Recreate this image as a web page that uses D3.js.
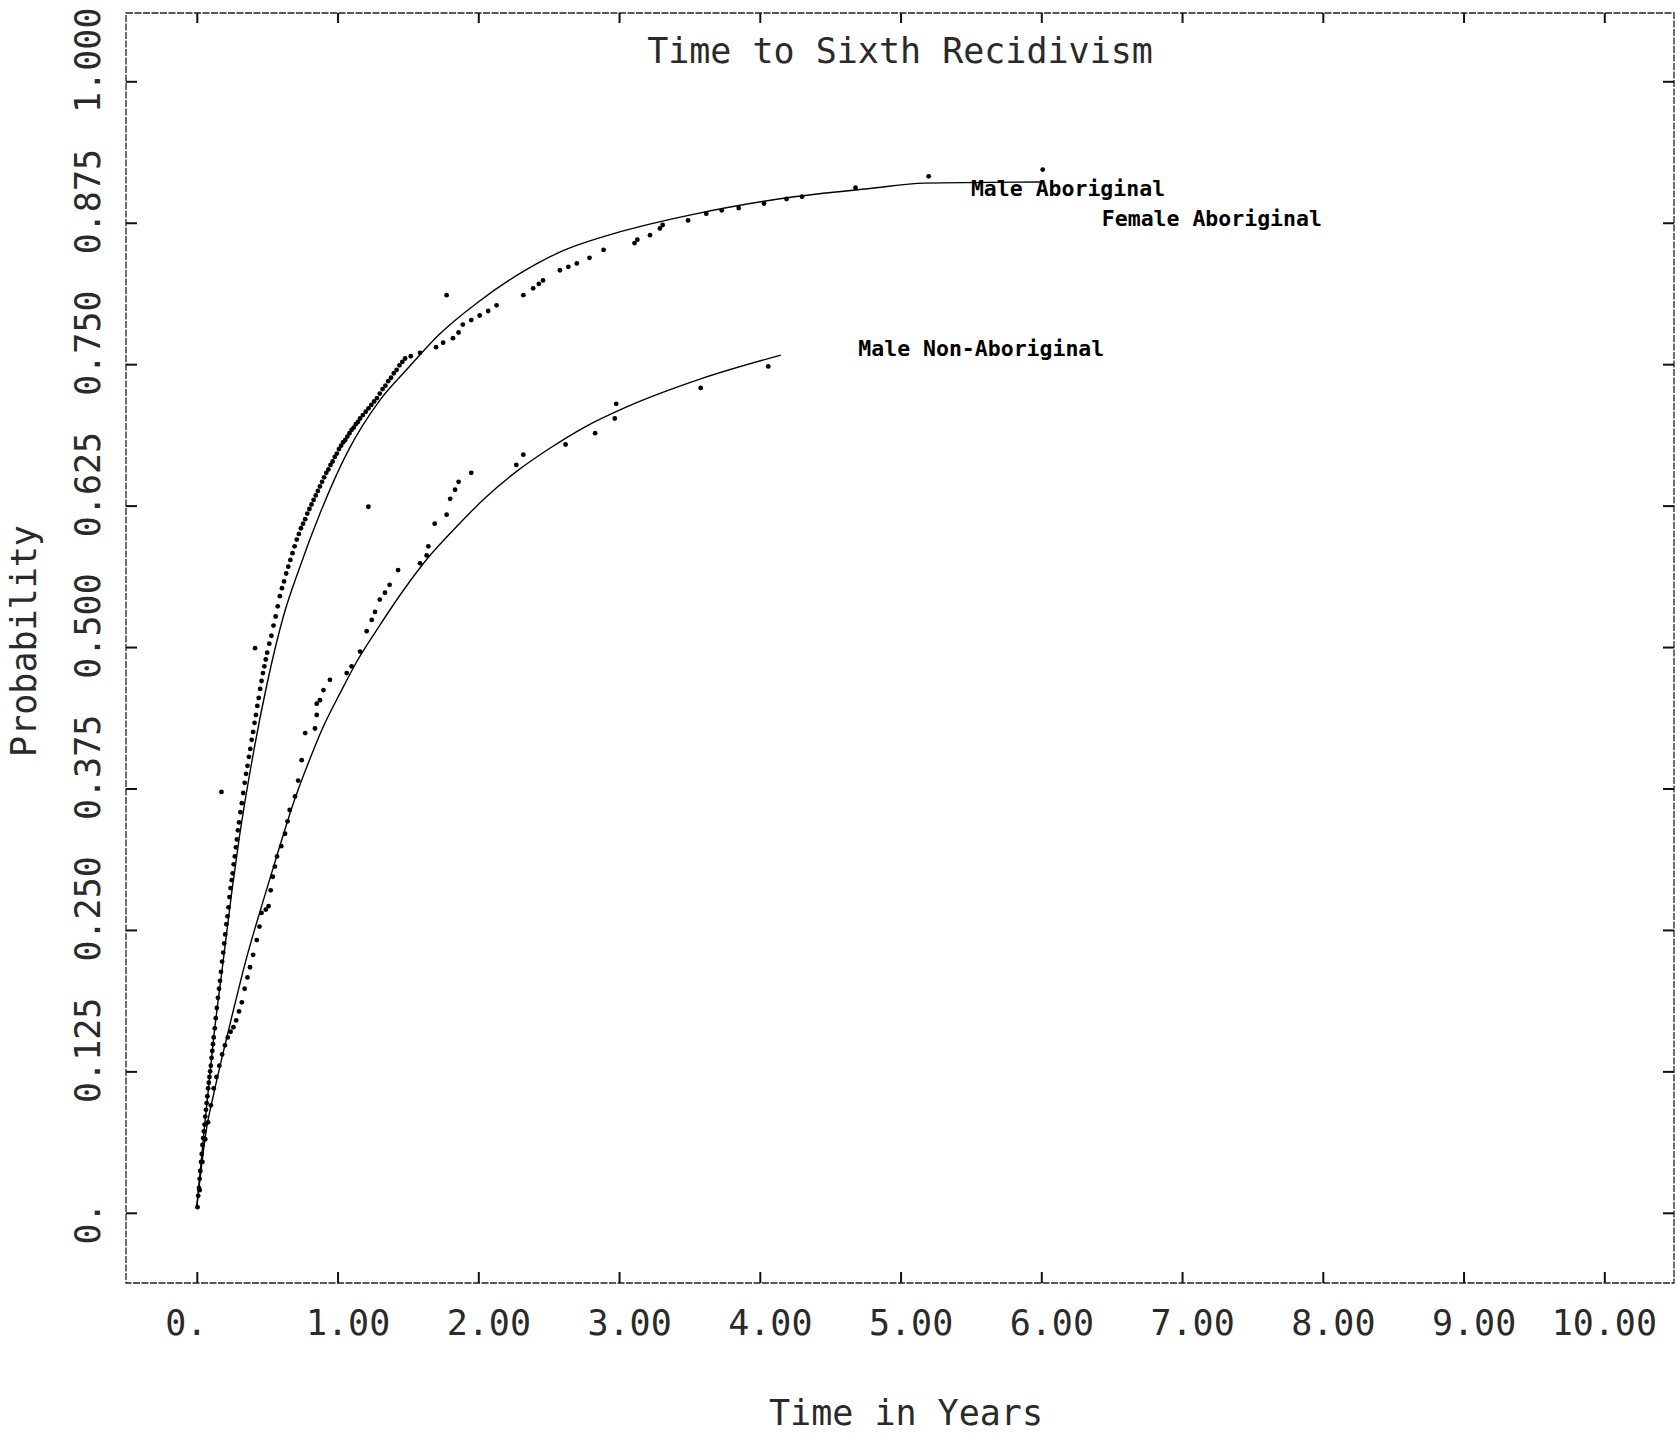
<!DOCTYPE html>
<html>
<head>
<meta charset="utf-8">
<script src="https://cdn.jsdelivr.net/npm/d3@7"></script>
<style>
  html, body { margin: 0; padding: 0; background: #fff; }
  svg { display: block; }
  .plot-font { font-family: "DejaVu Sans Mono", monospace; font-size: 35px; fill: #2a2a2a; }
  .curve-label { font-family: "DejaVu Sans Mono", monospace; font-weight: bold; font-size: 21.5px; fill: #000; }
</style>
</head>
<body>
<svg id="chart" width="1677" height="1438"></svg>
<script>
// axis ticks
const xTicks = [0, 1, 2, 3, 4, 5, 6, 7, 8, 9, 10];
const xTickLabels = ["0.", "1.00", "2.00", "3.00", "4.00", "5.00", "6.00", "7.00", "8.00", "9.00", "10.00"];
const yTicks = [0, 0.125, 0.25, 0.375, 0.5, 0.625, 0.75, 0.875, 1];
const yTickLabels = ["0.", "0.125", "0.250", "0.375", "0.500", "0.625", "0.750", "0.875", "1.000"];

// fitted curves [years, probability]
const maleAboriginalFit = [
  [0, 0.005], [0.05, 0.07], [0.12, 0.155], [0.19, 0.225], [0.25, 0.285], [0.30, 0.33],
  [0.40, 0.405], [0.50, 0.468], [0.615, 0.527], [0.733, 0.571], [0.875, 0.618], [1.065, 0.671],
  [1.30, 0.718], [1.49, 0.745], [1.72, 0.776], [2.00, 0.805], [2.32, 0.832], [2.56, 0.848],
  [2.98, 0.866], [3.16, 0.872], [3.51, 0.882], [4.03, 0.894], [4.45, 0.901], [4.77, 0.905],
  [5.17, 0.910], [6.00, 0.911]
];
const maleNonAboriginalFit = [
  [0, 0.005], [0.07, 0.075], [0.12, 0.105], [0.19, 0.143], [0.25, 0.174], [0.355, 0.226],
  [0.47, 0.275], [0.57, 0.316], [0.686, 0.362], [0.80, 0.40], [0.90, 0.43], [1.017, 0.459],
  [1.136, 0.487], [1.278, 0.515], [1.467, 0.550], [1.65, 0.580], [1.85, 0.607], [2.05, 0.632],
  [2.27, 0.655], [2.50, 0.675], [2.75, 0.694], [3.05, 0.712], [3.58, 0.737], [4.15, 0.758]
];

// empirical points [years, probability]
const maleAboriginalObs = [
  [0.005, 0.005], [0.01, 0.015], [0.015, 0.022], [0.02, 0.03], [0.025, 0.037], [0.03, 0.045],
  [0.035, 0.052], [0.04, 0.06], [0.045, 0.066], [0.05, 0.072], [0.055, 0.078], [0.06, 0.085],
  [0.065, 0.091], [0.07, 0.097], [0.075, 0.103], [0.08, 0.11], [0.085, 0.115], [0.09, 0.12],
  [0.095, 0.125], [0.10, 0.13], [0.105, 0.137], [0.11, 0.143], [0.115, 0.149], [0.12, 0.155],
  [0.128, 0.163], [0.135, 0.172], [0.142, 0.181], [0.15, 0.19], [0.158, 0.198], [0.165, 0.205],
  [0.172, 0.213], [0.18, 0.222], [0.188, 0.23], [0.195, 0.238], [0.202, 0.246], [0.21, 0.255],
  [0.218, 0.262], [0.225, 0.27], [0.232, 0.279], [0.24, 0.287], [0.248, 0.294], [0.255, 0.30],
  [0.262, 0.308], [0.27, 0.315], [0.278, 0.323], [0.285, 0.33], [0.292, 0.338], [0.30, 0.345],
  [0.31, 0.354], [0.32, 0.362], [0.33, 0.371], [0.34, 0.38], [0.35, 0.388], [0.36, 0.395],
  [0.37, 0.403], [0.38, 0.41], [0.39, 0.418], [0.40, 0.425], [0.41, 0.433], [0.42, 0.44],
  [0.43, 0.448], [0.44, 0.455], [0.45, 0.463], [0.46, 0.47], [0.47, 0.477], [0.48, 0.483],
  [0.49, 0.489], [0.50, 0.495], [0.515, 0.503], [0.53, 0.51], [0.545, 0.519], [0.56, 0.527],
  [0.575, 0.536], [0.59, 0.545], [0.605, 0.552], [0.62, 0.558], [0.635, 0.565], [0.65, 0.571],
  [0.665, 0.577], [0.68, 0.583], [0.695, 0.589], [0.71, 0.595], [0.725, 0.60], [0.74, 0.605],
  [0.755, 0.609], [0.77, 0.613], [0.785, 0.618], [0.80, 0.622], [0.815, 0.626], [0.83, 0.63],
  [0.845, 0.634], [0.86, 0.638], [0.875, 0.642], [0.89, 0.646], [0.905, 0.65], [0.92, 0.654],
  [0.935, 0.657], [0.95, 0.661], [0.965, 0.664], [0.98, 0.668], [0.995, 0.671], [1.01, 0.675],
  [1.025, 0.678], [1.04, 0.681], [1.055, 0.683], [1.07, 0.686], [1.085, 0.689], [1.10, 0.692],
  [1.115, 0.694], [1.13, 0.697], [1.145, 0.699], [1.16, 0.702], [1.18, 0.705], [1.20, 0.708],
  [1.22, 0.711], [1.24, 0.714], [1.26, 0.717], [1.28, 0.72], [1.30, 0.724], [1.32, 0.728],
  [1.34, 0.731], [1.36, 0.735], [1.38, 0.738], [1.40, 0.742], [1.42, 0.745], [1.44, 0.749],
  [1.46, 0.752], [1.48, 0.755], [1.52, 0.757], [1.586, 0.760], [1.70, 0.765], [1.75, 0.769],
  [1.82, 0.773], [1.86, 0.778], [1.89, 0.785], [1.95, 0.789], [2.01, 0.793], [2.07, 0.797],
  [2.13, 0.802], [2.32, 0.811], [2.39, 0.817], [2.43, 0.821], [2.46, 0.824], [2.58, 0.833],
  [2.64, 0.836], [2.70, 0.839], [2.79, 0.844], [2.89, 0.851], [3.11, 0.857], [3.13, 0.860],
  [3.22, 0.864], [3.29, 0.870], [3.31, 0.873], [3.49, 0.877], [3.62, 0.883], [3.73, 0.886],
  [3.85, 0.888], [4.03, 0.892], [4.19, 0.896], [4.30, 0.898], [4.68, 0.906], [5.20, 0.916],
  [6.01, 0.922]
];
const femaleAboriginalObs = [[0.175, 0.372], [0.414, 0.499], [1.219, 0.624], [1.775, 0.811]];
const maleNonAboriginalObs = [
  [0.02, 0.02], [0.04, 0.045], [0.06, 0.065], [0.08, 0.08], [0.10, 0.095], [0.12, 0.11],
  [0.14, 0.12], [0.16, 0.13], [0.18, 0.14], [0.20, 0.148], [0.22, 0.155], [0.24, 0.16],
  [0.26, 0.164], [0.28, 0.17], [0.30, 0.178], [0.32, 0.186], [0.34, 0.198], [0.36, 0.208],
  [0.378, 0.217], [0.40, 0.228], [0.426, 0.241], [0.445, 0.253], [0.46, 0.265], [0.49, 0.268],
  [0.51, 0.271], [0.525, 0.285], [0.54, 0.297], [0.555, 0.306], [0.57, 0.315], [0.60, 0.324],
  [0.627, 0.335], [0.645, 0.346], [0.66, 0.356], [0.698, 0.368], [0.72, 0.382], [0.745, 0.40],
  [0.77, 0.424], [0.84, 0.428], [0.852, 0.44], [0.852, 0.45], [0.875, 0.453], [0.90, 0.462],
  [0.946, 0.471], [1.065, 0.477], [1.10, 0.483], [1.16, 0.496], [1.207, 0.514], [1.243, 0.524],
  [1.266, 0.531], [1.30, 0.542], [1.337, 0.548], [1.37, 0.555], [1.43, 0.568], [1.586, 0.574],
  [1.633, 0.581], [1.645, 0.589], [1.69, 0.609], [1.775, 0.617], [1.80, 0.631], [1.835, 0.639],
  [1.86, 0.646], [1.95, 0.654], [2.27, 0.661], [2.32, 0.670], [2.62, 0.679], [2.83, 0.689],
  [2.97, 0.702], [2.98, 0.715], [3.58, 0.729], [4.06, 0.748]
];

// curve labels and where they sit (data units)
const curveLabels = ["Male Aboriginal", "Female Aboriginal", "Male Non-Aboriginal"];
const curveLabelAt = [[5.50, 0.899], [6.43, 0.872], [4.70, 0.757]];

const svg = d3.select("#chart");
const frame = { left: 126, top: 13, right: 1674, bottom: 1283 };

const x = d3.scaleLinear().domain([0, 10]).range([196.8, 1604.3]);
const y = d3.scaleLinear().domain([0, 1]).range([1212.8, 81.3]);

// frame
svg.append("rect")
    .attr("x", frame.left).attr("y", frame.top)
    .attr("width", frame.right - frame.left)
    .attr("height", frame.bottom - frame.top)
    .attr("fill", "none")
    .attr("stroke", "#222")
    .attr("stroke-width", 1.3)
    .attr("stroke-dasharray", "7,1.5");

function inwardTicks(axis, transform) {
    svg.append("g")
        .attr("transform", transform)
        .call(axis.tickSizeOuter(0).tickFormat(""))
        .call(g => g.select(".domain").remove())
        .call(g => g.selectAll("line").attr("stroke", "#111").attr("stroke-width", 2));
}
inwardTicks(d3.axisBottom(x).tickValues(xTicks).tickSizeInner(-11), `translate(0,${frame.bottom})`);
inwardTicks(d3.axisTop(x).tickValues(xTicks).tickSizeInner(-10), `translate(0,${frame.top})`);
inwardTicks(d3.axisLeft(y).tickValues(yTicks).tickSizeInner(-11), `translate(${frame.left},0)`);
inwardTicks(d3.axisRight(y).tickValues(yTicks).tickSizeInner(-11), `translate(${frame.right},0)`);

// tick labels, decimal point lined up on the tick
const adv = 0.602 * 35;
xTicks.forEach((v, i) => {
    const s = xTickLabels[i];
    svg.append("text")
        .attr("class", "plot-font")
        .attr("x", x(v) - (s.indexOf(".") + 0.5) * adv)
        .attr("y", 1335)
        .text(s);
});
yTicks.forEach((v, i) => {
    const s = yTickLabels[i];
    svg.append("text")
        .attr("class", "plot-font")
        .attr("transform", `translate(100,${y(v)}) rotate(-90)`)
        .attr("x", -(s.indexOf(".") + 0.5) * adv)
        .text(s);
});

// titles
svg.append("text").attr("class", "plot-font")
    .attr("x", (frame.left + frame.right) / 2).attr("y", 63)
    .attr("text-anchor", "middle")
    .text("Time to Sixth Recidivism");
svg.append("text").attr("class", "plot-font")
    .attr("x", 906).attr("y", 1425)
    .attr("text-anchor", "middle")
    .text("Time in Years");
svg.append("text").attr("class", "plot-font")
    .attr("transform", `translate(36,641) rotate(-90)`)
    .attr("text-anchor", "middle")
    .text("Probability");

// curves
const line = d3.line().x(d => x(d[0])).y(d => y(d[1])).curve(d3.curveMonotoneX);
[maleAboriginalFit, maleNonAboriginalFit].forEach(data => {
    svg.append("path")
        .datum(data)
        .attr("d", line)
        .attr("fill", "none")
        .attr("stroke", "#000")
        .attr("stroke-width", 1.4);
});

[maleAboriginalObs, femaleAboriginalObs, maleNonAboriginalObs].forEach(data => {
    svg.append("g").selectAll("circle")
        .data(data)
        .enter()
        .append("circle")
        .attr("cx", d => x(d[0]))
        .attr("cy", d => y(d[1]))
        .attr("r", 2.4)
        .attr("fill", "#000");
});

// curve labels
curveLabels.forEach((t, i) => {
    svg.append("text")
        .attr("class", "curve-label")
        .attr("x", x(curveLabelAt[i][0]))
        .attr("y", y(curveLabelAt[i][1]))
        .text(t);
});
</script>
</body>
</html>
